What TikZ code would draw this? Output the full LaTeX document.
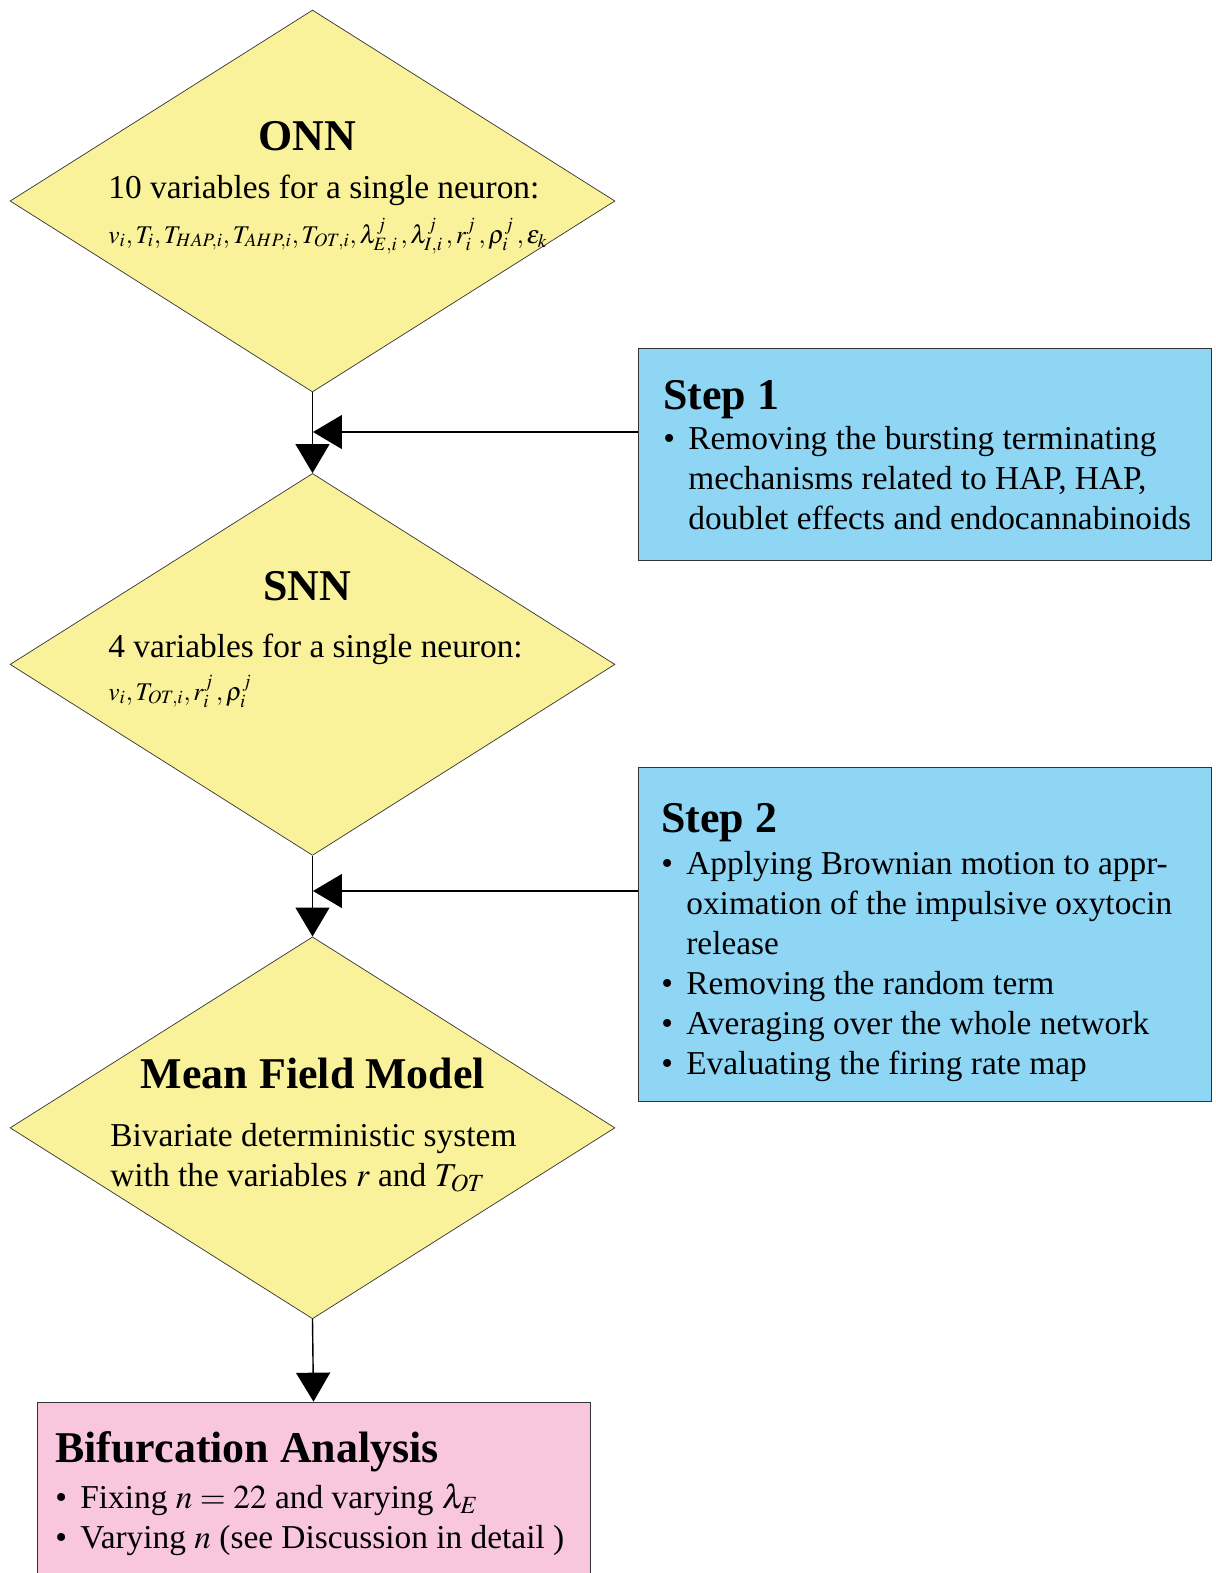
\documentclass[tikz,border=0pt]{standalone}
\usepackage{mathptmx}
\usepackage{fontspec}
\setmainfont{Liberation Serif}
\usepackage{xcolor}
\usepackage{tikz}
\usetikzlibrary{shapes.geometric, arrows.meta}
\definecolor{diayellow}{RGB}{250,242,155}
\definecolor{stepblue}{RGB}{143,214,245}
\definecolor{resultpink}{RGB}{248,198,221}
\tikzstyle{decision} = [diamond, minimum width=12.1cm, minimum height=7.64cm, inner sep=0pt, draw=black!80, fill=diayellow]
\tikzstyle{stepbox} = [rectangle, minimum width=11.46cm, draw=black!80, fill=stepblue]
\tikzstyle{result} = [rectangle, minimum width=11.06cm, minimum height=3.56cm, draw=black!80, fill=resultpink]
\tikzstyle{title} = [font=\fontsize{25}{30}\selectfont\bfseries, inner sep=0pt]
\tikzstyle{body} = [font=\fontsize{19}{22.76}\selectfont, inner sep=0pt, align=left]
\tikzstyle{formula} = [font=\fontsize{14.5}{20}\selectfont, inner sep=0pt]
\tikzstyle{arrow} = [line width=0.8pt, -{Triangle[length=0.58cm, width=0.68cm]}]
\newcommand{\itm}{\makebox[0.5cm][l]{\textbullet}}
\newcommand{\cnt}{\makebox[0.5cm]{}}

\begin{document}
\begin{tikzpicture}[x=0.02cm, y=-0.02cm, node distance=9.27cm]
      \useasboundingbox (0,0) rectangle (1215,1573);
      % the three models
      \node (onn) [decision] at (312.5,201) {};
      \node (snn) [decision, below of=onn] {};
      \node (mfm) [decision, below of=snn] {};
      \node (onnT) [title, anchor=base] at (307,150) {ONN};
      \node (onnV) [body, anchor=base west] at (108,198) {10 variables for a single neuron:};
      \node (onnF) [formula, anchor=base west] at (108,243) {$v_i,T_i,T_{HAP,i},T_{AHP,i},T_{OT,i},\lambda^j_{E,i}\,,\lambda^j_{I,i}\,,r^j_i\,,\rho^j_i\,,\varepsilon_k$};
      \node (snnT) [title, anchor=base] at (307,600) {SNN};
      \node (snnV) [body, anchor=base west] at (108,657) {4 variables for a single neuron:};
      \node (snnF) [formula, anchor=base west] at (108,700) {$v_i,T_{OT,i},r^j_i\,,\rho^j_i$};
      \node (mfmT) [title, anchor=base] at (313,1088) {Mean Field Model};
      \node (mfmV) [body, anchor=north west] at (110,1123) {Bivariate deterministic system\\with the variables $r$ and $T_{OT}$};
      % reduction steps
      \node (step1) [stepbox, minimum height=4.24cm] at (924.5,454) {};
      \node (step1T) [title, anchor=base west] at (663,409) {Step 1};
      \node (step1B) [body, anchor=north west] at (663,426) {\itm Removing the bursting terminating\\
        \cnt mechanisms related to HAP, HAP,\\
        \cnt doublet effects and endocannabinoids};
      \node (step2) [stepbox, minimum height=6.68cm] at (924.5,934) {};
      \node (step2T) [title, anchor=base west] at (661,832) {Step 2};
      \node (step2B) [body, anchor=north west] at (661,851) {\itm Applying Brownian motion to appr-\\
        \cnt oximation of the impulsive oxytocin\\
        \cnt release\\
        \itm Removing the random term\\
        \itm Averaging over the whole network\\
        \itm Evaluating the firing rate map};
      % analysis
      \node (bif) [result] at (313.5,1491) {};
      \node (bifT) [title, anchor=base west] at (55,1462) {Bifurcation Analysis};
      \node (bifB) [body, anchor=north west] at (55,1483) {\itm Fixing $n=22$ and varying $\lambda_E$\\
        \itm Varying $n$ (see Discussion in detail )};
      \coordinate (in1) at (313,432);
      \coordinate (in2) at (313,891);
      \draw [arrow] (onn.south) -- (snn.north);
      \draw [arrow] (snn.south) -- (mfm.north);
      \draw [arrow] (mfm.south) -- (bif.north);
      \draw [arrow] (step1.west |- in1) -- (in1);
      \draw [arrow] (step2.west |- in2) -- (in2);
    \end{tikzpicture}
\end{document}
